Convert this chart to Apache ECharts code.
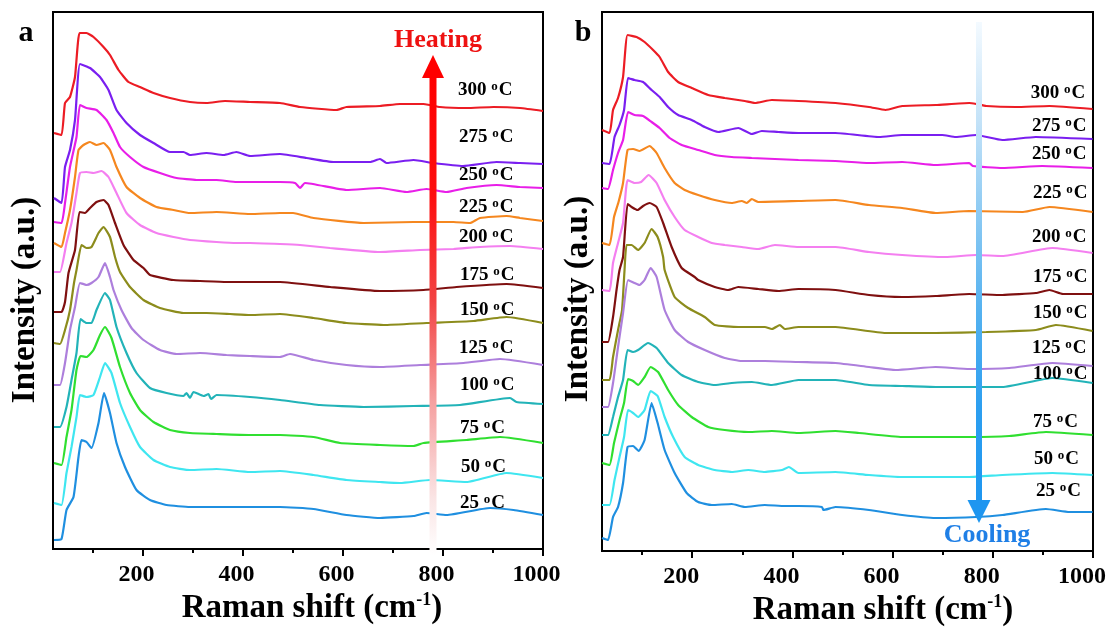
<!DOCTYPE html>
<html><head><meta charset="utf-8">
<script src="https://cdn.jsdelivr.net/npm/echarts@6/dist/echarts.min.js"></script>
<style>html,body{margin:0;padding:0;background:#fff}#c{width:1113px;height:628px}</style>
</head><body><div id="c"></div>
<script>
// ---------- data (Raman shift, offset intensity a.u.) ----------
const majorTicks = [200, 400, 600, 800, 1000];
const minorTicks = [100, 300, 500, 700, 900];
const temps = ['300','275','250','225','200','175','150','125','100','75','50','25'];
const colors = ['#ec1c24','#7a1ff0','#e81ee8','#f5871f','#f47ff0','#7f1010','#8c8c1c','#ad7fdc','#22b3b8','#30df30','#3fe6f0','#1f8fe0'];

// panel a (heating)
const a300 = [[22,416],[37,414],[44,446],[54,452],[64,472],[73,516],[87,516],[101,512],[121,502],[134,494],[151,479],[171,467],[194,462],[221,456],[254,451],[294,447],[327,446],[364,448],[414,447],[474,446],[514,442],[587,439],[607,442],[674,443],[714,445],[761,445],[794,442],[847,441],[901,442],[954,441],[1000,438]];
const a275 = [[22,351],[37,346],[44,382],[54,399],[64,429],[74,485],[94,481],[114,472],[131,459],[147,439],[167,426],[194,414],[221,406],[254,397],[281,397],[294,394],[327,396],[361,394],[387,397],[414,393],[474,395],[527,391],[581,387],[654,387],[674,390],[687,386],[741,389],[780,386],[840,383],[907,387],[954,386],[1000,385]];
const a250 = [[22,327],[37,326],[44,346],[54,382],[67,412],[74,444],[87,441],[107,439],[127,429],[141,416],[154,402],[174,392],[201,382],[234,376],[267,371],[307,369],[347,369],[387,367],[414,367],[474,367],[504,366],[514,361],[524,366],[607,359],[674,361],[727,357],[767,360],[807,357],[847,361],[907,364],[954,362],[1000,361]];
const a225 = [[22,306],[37,302],[44,316],[54,339],[64,372],[71,399],[81,404],[94,407],[107,404],[121,406],[134,399],[147,382],[167,362],[194,351],[227,342],[261,339],[294,336],[347,337],[414,335],[474,336],[500,336],[541,331],[641,326],[741,327],[821,327],[854,326],[874,331],[927,333],[954,331],[1000,328]];
const a200 = [[22,277],[34,277],[47,306],[57,326],[67,356],[74,376],[87,377],[101,376],[117,378],[131,372],[147,356],[167,336],[194,324],[227,316],[261,312],[294,309],[347,307],[387,306],[414,306],[474,305],[514,304],[574,301],[674,297],[754,299],[821,300],[874,302],[934,303],[1000,300]];
const a175 = [[22,237],[37,237],[44,247],[51,276],[64,299],[73,337],[84,336],[94,341],[107,347],[121,349],[131,344],[144,326],[161,304],[181,289],[201,281],[214,274],[261,269],[314,268],[367,267],[414,267],[474,267],[574,262],[674,258],[761,259],[827,262],[927,265],[1000,261]];
const a150 = [[22,206],[34,205],[44,219],[54,239],[62,266],[67,279],[77,304],[87,301],[97,302],[111,316],[121,322],[134,312],[144,292],[154,277],[174,262],[201,249],[234,241],[281,236],[327,236],[374,235],[414,234],[474,235],[541,231],[607,226],[681,224],[767,226],[861,228],[927,232],[1000,226]];
const a125 = [[22,164],[34,164],[44,186],[54,219],[64,242],[74,266],[87,264],[97,266],[111,272],[124,286],[134,272],[141,259],[157,239],[177,221],[201,209],[234,199],[267,195],[314,196],[367,194],[414,193],[474,192],[494,195],[541,189],[607,184],[674,182],[754,184],[841,186],[914,190],[1000,184]];
const a100 = [[22,122],[34,122],[47,142],[57,169],[67,196],[75,230],[87,226],[97,226],[107,239],[124,256],[134,249],[147,222],[167,196],[187,176],[214,161],[247,156],[281,153],[287,156],[294,151],[301,157],[321,153],[331,155],[336,150],[347,154],[414,152],[474,149],[554,144],[641,142],[741,143],[834,144],[934,151],[947,147],[1000,145]];
const a75 = [[22,86],[37,84],[47,112],[57,139],[67,179],[75,193],[87,192],[101,199],[114,214],[124,222],[137,211],[154,182],[174,156],[194,139],[221,127],[254,119],[294,116],[347,115],[414,114],[474,114],[541,112],[594,106],[674,104],[741,103],[761,106],[847,109],[914,112],[1000,106]];
const a50 = [[22,46],[37,44],[47,76],[57,102],[67,132],[74,154],[87,152],[101,154],[114,172],[124,186],[137,176],[154,146],[174,122],[194,102],[221,89],[254,82],[294,79],[347,80],[414,77],[474,78],[541,74],[607,69],[674,67],[714,66],[774,69],[847,67],[927,76],[1000,71]];
const a25 = [[22,9],[37,10],[47,39],[61,52],[71,92],[77,109],[87,107],[97,101],[111,126],[122,156],[134,136],[147,106],[164,82],[187,59],[214,49],[247,44],[294,42],[347,42],[414,42],[474,42],[541,40],[607,34],[674,31],[741,33],[767,36],[807,34],[894,41],[941,39],[1000,34]];

// panel b (cooling)
const b300 = [[20,421],[35,418],[42,441],[52,453],[62,474],[71,516],[89,514],[105,509],[122,501],[135,494],[152,479],[172,469],[199,463],[232,456],[265,453],[305,450],[325,448],[359,451],[412,450],[486,448],[553,444],[586,441],[619,445],[686,446],[753,448],[767,447],[787,445],[846,444],[913,445],[999,442]];
const b275 = [[20,388],[35,387],[45,414],[55,426],[64,441],[72,473],[85,471],[102,469],[119,461],[135,454],[152,444],[172,436],[199,431],[225,424],[252,419],[292,423],[319,417],[339,420],[372,419],[412,418],[486,418],[573,414],[619,416],[699,416],[726,414],[767,416],[819,411],[886,414],[999,412]];
const b250 = [[20,363],[32,362],[42,381],[52,398],[62,411],[72,439],[85,436],[102,435],[119,429],[135,423],[155,413],[179,406],[212,401],[245,396],[279,394],[319,393],[365,392],[412,391],[486,390],[553,388],[619,389],[686,386],[753,388],[760,385],[819,383],[899,385],[999,383]];
const b225 = [[20,308],[35,306],[44,334],[53,349],[62,368],[71,401],[82,402],[95,400],[115,405],[129,398],[145,383],[165,368],[185,361],[212,356],[245,351],[279,348],[299,350],[309,348],[319,352],[332,349],[412,350],[486,351],[553,346],[619,343],[686,338],[753,340],[860,339],[913,344],[999,339]];
const b200 = [[20,261],[35,260],[42,288],[52,308],[62,328],[71,371],[85,368],[98,369],[113,376],[129,368],[145,351],[165,334],[185,321],[212,314],[239,308],[265,306],[299,304],[332,302],[365,306],[412,304],[486,304],[553,299],[619,296],[706,294],[767,296],[819,295],[919,303],[999,298]];
const b175 = [[20,209],[32,209],[42,234],[49,261],[55,281],[62,294],[71,347],[79,344],[91,341],[102,345],[115,348],[129,344],[142,328],[159,304],[179,283],[205,274],[212,271],[245,264],[272,261],[292,264],[332,262],[372,260],[412,262],[486,261],[553,256],[619,254],[686,255],[753,257],[819,256],[886,258],[913,261],[940,257],[999,257]];
const b150 = [[20,171],[35,171],[42,194],[52,221],[60,241],[65,281],[69,306],[79,306],[92,301],[105,308],[119,322],[131,314],[142,294],[145,281],[165,254],[192,243],[225,234],[245,226],[292,224],[345,224],[359,222],[375,226],[385,222],[412,224],[486,224],[586,218],[686,218],[787,219],[886,221],[926,226],[999,220]];
const b125 = [[20,144],[32,144],[42,168],[52,204],[62,238],[72,271],[85,268],[95,266],[105,271],[117,283],[129,274],[145,241],[165,221],[192,209],[225,201],[265,193],[299,190],[345,190],[412,189],[486,188],[553,184],[606,181],[686,184],[753,182],[833,183],[919,188],[999,185]];
const b100 = [[20,116],[32,116],[42,134],[52,154],[62,171],[71,201],[82,199],[92,201],[112,208],[129,203],[152,188],[179,176],[212,169],[245,166],[279,168],[319,169],[359,166],[412,171],[486,171],[553,166],[619,165],[686,164],[753,164],[819,164],[919,173],[999,168]];
const b75 = [[20,88],[35,86],[44,108],[55,131],[64,148],[72,172],[82,170],[92,166],[105,174],[117,184],[132,179],[152,161],[172,146],[199,134],[232,124],[265,121],[312,119],[359,120],[412,118],[486,120],[533,118],[619,114],[686,114],[753,114],[833,115],[906,119],[999,116]];
const b50 = [[20,46],[35,46],[45,71],[55,94],[64,114],[72,141],[82,138],[92,134],[105,141],[117,160],[131,155],[145,134],[162,114],[185,94],[212,86],[245,81],[279,79],[312,81],[345,79],[379,81],[393,84],[412,78],[486,79],[553,76],[619,74],[686,74],[753,74],[819,76],[919,78],[999,76]];
const b25 = [[20,13],[32,11],[42,34],[52,44],[62,68],[71,104],[82,105],[93,100],[105,111],[119,148],[131,128],[145,101],[165,78],[189,58],[212,49],[239,46],[279,47],[305,44],[345,46],[385,45],[412,45],[459,44],[462,41],[486,44],[553,41],[619,36],[686,33],[767,34],[819,36],[906,42],[953,39],[999,39]];

// label anchor positions (Raman shift, intensity) for the temperature tags
const labelXa = [830,832,832,832,832,834,834,832,834,834,836,834];
const labelYa = [459,412,374,342,312,274,239,201,164,121,82,46];
const labelXb = [876,878,878,880,878,880,880,878,880,880,882,886];
const labelYb = [458,425,397,358,314,274,238,203,177,129,92,60];

const panelA = [a300,a275,a250,a225,a200,a175,a150,a125,a100,a75,a50,a25];
const panelB = [b300,b275,b250,b225,b200,b175,b150,b125,b100,b75,b50,b25];

// ---------- chart ----------
const FONT = '"Liberation Serif", "Times New Roman", serif';
const chart = echarts.init(document.getElementById('c'), null, {renderer: 'canvas'});

function mainX(grid, padR) {
  return {
    gridIndex: grid, type: 'value', min: 20, max: 1000, position: 'bottom',
    axisLine: {show: true, onZero: false, lineStyle: {color: '#000', width: 2}},
    axisTick: {show: true, customValues: majorTicks, length: 7, lineStyle: {color: '#000', width: 2}},
    axisLabel: {show: true, customValues: majorTicks, formatter: v => String(v), fontSize: 24, fontWeight: 'bold', fontFamily: FONT, color: '#000', margin: 14, padding: [0, padR, 0, 0]},
    splitLine: {show: false}
  };
}
function minorX(grid) {
  return {
    gridIndex: grid, type: 'value', min: 20, max: 1000, position: 'bottom', offset: 0,
    axisLine: {show: false},
    axisTick: {show: true, customValues: minorTicks, length: 4, lineStyle: {color: '#000', width: 2}},
    axisLabel: {show: false}, splitLine: {show: false}
  };
}
function yAx(grid, max) {
  return {
    gridIndex: grid, type: 'value', min: 0, max: max,
    axisLine: {show: true, lineStyle: {color: '#000', width: 2}},
    axisTick: {show: false}, axisLabel: {show: false}, splitLine: {show: false}
  };
}

const series = [];
panelA.forEach((d, i) => series.push({type: 'line', xAxisIndex: 0, yAxisIndex: 0, data: d, symbol: 'none', smooth: 0.15, lineStyle: {color: colors[i], width: 2.2}, z: 3, silent: true}));
panelB.forEach((d, i) => series.push({type: 'line', xAxisIndex: 1, yAxisIndex: 1, data: d, symbol: 'none', smooth: 0.15, lineStyle: {color: colors[i], width: 2.2}, z: 3, silent: true}));

const labelRich = {
  n: {fontSize: 19, lineHeight: 19, fontWeight: 'bold', fontFamily: FONT, color: '#000', verticalAlign: 'bottom'},
  s: {fontSize: 13, lineHeight: 10, fontWeight: 'bold', fontFamily: FONT, color: '#000', verticalAlign: 'top', padding: [0, 1, 0, 0]}
};
function tagSeries(axis, xs, ys) {
  return {
    type: 'scatter', xAxisIndex: axis, yAxisIndex: axis, symbolSize: 0, z: 6, silent: true,
    data: temps.map((t, i) => [xs[i], ys[i], t]),
    label: {show: true, position: [0, 0], align: 'left', verticalAlign: 'middle', color: '#000', opacity: 1,
      formatter: p => '{n|' + p.value[2] + ' }{s|o}{n|C}', rich: labelRich}
  };
}
series.push(tagSeries(0, labelXa, labelYa));
series.push(tagSeries(1, labelXb, labelYb));

function titleText(x, y) {
  return {type: 'text', x: x, y: y, z: 10, style: {
    text: '{t|Raman shift (cm}{s|-1}{t|)}', align: 'center', verticalAlign: 'middle',
    rich: {t: {fontSize: 33, fontWeight: 'bold', fontFamily: FONT, fill: '#000', verticalAlign: 'bottom'},
           s: {fontSize: 18, fontWeight: 'bold', fontFamily: FONT, fill: '#000', verticalAlign: 'top'}}
  }};
}
function yTitle(x, y) {
  return {type: 'text', x: x, y: y, rotation: Math.PI / 2, z: 10, style: {
    text: 'Intensity (a.u.)', font: 'bold 33px ' + FONT, fill: '#000', align: 'center', verticalAlign: 'middle'}};
}

const graphic = [
  titleText(312, 608), titleText(883, 610),
  yTitle(25, 300), yTitle(578, 299),
  {type: 'text', x: 26, y: 33, z: 10, style: {text: 'a', font: 'bold 30px ' + FONT, fill: '#000', align: 'center', verticalAlign: 'middle'}},
  {type: 'text', x: 583, y: 33, z: 10, style: {text: 'b', font: 'bold 30px ' + FONT, fill: '#000', align: 'center', verticalAlign: 'middle'}},
  // heating arrow
  {type: 'rect', z: 8, shape: {x: 429.5, y: 76, width: 7, height: 479}, style: {fill: new echarts.graphic.LinearGradient(0, 0, 0, 1, [
    {offset: 0, color: '#ff0000'}, {offset: 0.25, color: '#fd1010'}, {offset: 0.47, color: '#f24444'},
    {offset: 0.68, color: '#f5a0a0'}, {offset: 0.88, color: '#fae4e4'}, {offset: 1, color: '#ffffff'}])}},
  {type: 'polygon', z: 8, shape: {points: [[422, 78], [444, 78], [433, 55]]}, style: {fill: '#ff0000'}},
  {type: 'text', x: 438, y: 40, z: 10, style: {text: 'Heating', font: 'bold 26px ' + FONT, fill: '#ee1111', align: 'center', verticalAlign: 'middle'}},
  // cooling arrow
  {type: 'rect', z: 8, shape: {x: 976, y: 22, width: 6, height: 480}, style: {fill: new echarts.graphic.LinearGradient(0, 0, 0, 1, [
    {offset: 0, color: '#f4faff'}, {offset: 0.2, color: '#c5e3f8'}, {offset: 0.4, color: '#8ccaf3'},
    {offset: 0.6, color: '#55b2f0'}, {offset: 0.8, color: '#2d9ff0'}, {offset: 1, color: '#1e96f0'}])}},
  {type: 'polygon', z: 8, shape: {points: [[967.5, 500], [990.5, 500], [979, 523]]}, style: {fill: '#1e96f0'}},
  {type: 'text', x: 987, y: 535, z: 10, style: {text: 'Cooling', font: 'bold 26px ' + FONT, fill: '#1f7fe6', align: 'center', verticalAlign: 'middle'}}
];

chart.setOption({
  animation: false,
  backgroundColor: '#fff',
  grid: [
    {left: 53, top: 12, width: 490, height: 537, show: true, borderColor: '#000', borderWidth: 2, backgroundColor: 'transparent'},
    {left: 602, top: 12, width: 491, height: 539, show: true, borderColor: '#000', borderWidth: 2, backgroundColor: 'transparent'}
  ],
  xAxis: [mainX(0, 13), mainX(1, 22), minorX(0), minorX(1)],
  yAxis: [yAx(0, 537), yAx(1, 539)],
  series: series,
  graphic: graphic
});
</script></body></html>
